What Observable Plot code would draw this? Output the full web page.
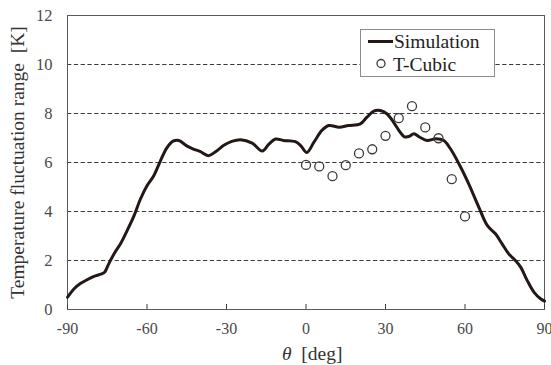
<!DOCTYPE html>
<html>
<head>
<meta charset="utf-8">
<script src="https://cdn.jsdelivr.net/npm/d3@7"></script>
<script src="https://cdn.jsdelivr.net/npm/@observablehq/plot@0.6"></script>
<style>
  body { margin: 0; background: #fff; }
  #chart { position: relative; width: 551px; height: 365px; font-family: "Liberation Serif", Tinos, "Times New Roman", "Nimbus Roman", "DejaVu Serif", serif; }
  #chart svg { display: block; }
  #chart svg text { font-family: "Liberation Serif", Tinos, "Times New Roman", "Nimbus Roman", "DejaVu Serif", serif; }
  .legend { position: absolute; left: 360px; top: 29px; width: 133px; height: 46px; border: 1px solid #8c8c8c; background: #fff; }
  .legend .row { position: absolute; left: 0; font-size: 19.5px; color: #1e1e1e; white-space: nowrap; line-height: 1; }
  .xlabel { position: absolute; left: 282px; top: 342px; font-size: 19.5px; color: #333; white-space: pre; line-height: 1.2; }
</style>
</head>
<body>
<div id="chart"></div>
<script>
// Simulated temperature fluctuation range along the angle theta
const simTheta = [-90, -87.5, -85, -82.5, -80, -77.5, -76, -75, -73.8, -72, -70, -67.5, -65, -62.5, -60, -57.5, -55, -52.5, -50, -48, -45, -42.5, -40, -36.8, -34, -31, -28, -24.7, -20.3, -16.5, -14, -11.5, -8.5, -4, -2, 0.3, 3, 6, 8.6, 12.5, 16, 20.5, 23, 25.6, 28, 30.5, 33, 35.5, 37, 38.8, 40.7, 43, 45.7, 49, 52, 54.5, 57.7, 61.4, 65.2, 68.4, 71.5, 74, 76.5, 79, 81, 83.5, 86, 88.5, 90];
const simValue = [0.50, 0.85, 1.07, 1.22, 1.35, 1.44, 1.52, 1.73, 2.0, 2.35, 2.68, 3.22, 3.8, 4.5, 5.05, 5.45, 6.05, 6.6, 6.88, 6.9, 6.68, 6.55, 6.45, 6.28, 6.45, 6.7, 6.86, 6.93, 6.79, 6.47, 6.75, 6.96, 6.9, 6.85, 6.69, 6.41, 6.83, 7.31, 7.51, 7.44, 7.51, 7.58, 7.85, 8.1, 8.12, 7.99, 7.65, 7.24, 7.06, 7.06, 7.17, 7.03, 6.9, 6.97, 6.9, 6.56, 5.95, 5.13, 4.18, 3.43, 3.09, 2.68, 2.27, 2.0, 1.73, 1.18, 0.71, 0.44, 0.34];

// T-Cubic measurements
const cubicTheta = [0, 5, 10, 15, 20, 25, 30, 35, 40, 45, 50, 55, 60];
const cubicValue = [5.9, 5.84, 5.44, 5.89, 6.37, 6.54, 7.09, 7.81, 8.3, 7.43, 6.99, 5.32, 3.8];

const xTicks = [-90, -60, -30, 0, 30, 60, 90];
const yTicks = [0, 2, 4, 6, 8, 10, 12];
const gridValues = [2, 4, 6, 8, 10];
const seriesNames = ["Simulation", "T-Cubic"];
const yLabel = "Temperature fluctuation range\u00a0 [K]";
const xSymbol = "θ";
const xUnit = "[deg]";

const simulation = simTheta.map((t, i) => ({theta: t, value: simValue[i]}));
const cubic = cubicTheta.map((t, i) => ({theta: t, value: cubicValue[i]}));

const chart = Plot.plot({
  width: 551,
  height: 365,
  marginLeft: 67,
  marginRight: 7,
  marginTop: 15,
  marginBottom: 56,
  style: {fontSize: "16px", color: "#4a4a4a", background: "#fff", overflow: "visible"},
  x: {domain: [-90, 90]},
  y: {domain: [0, 12]},
  marks: [
    Plot.ruleY(gridValues, {stroke: "#3c3c3c", strokeWidth: 1, strokeDasharray: "4.3,2.5"}),
    Plot.frame({stroke: "#5a5a5a", strokeWidth: 1}),
    Plot.axisX(xTicks, {tickSize: -5, tickPadding: 18, tickFormat: d => String(d), label: null, stroke: "#3c3c3c", fontSize: 16}),
    Plot.axisY(yTicks, {tickSize: 0, tickPadding: 15, tickFormat: d => String(d), label: yLabel, labelAnchor: "center", labelOffset: 57, labelArrow: "none", fontSize: 16.5}),
    Plot.line(simulation, {x: "theta", y: "value", curve: "catmull-rom", stroke: "#231815", strokeWidth: 3}),
    Plot.dot(cubic, {x: "theta", y: "value", r: 4.5, stroke: "#3a3a3a", strokeWidth: 1.3, fill: "none"})
  ]
});

const root = document.getElementById("chart");
root.appendChild(chart);

// Larger, darker title for the value axis
chart.querySelectorAll("g[aria-label='y-axis label'] text").forEach(t => {
  t.setAttribute("font-size", "19.5");
  t.setAttribute("fill", "#333");
});

// Axis title with italic theta
const xl = document.createElement("div");
xl.className = "xlabel";
const it = document.createElement("i");
it.textContent = xSymbol;
xl.appendChild(it);
xl.appendChild(document.createTextNode("  " + xUnit));
root.appendChild(xl);

// Legend box
const legend = document.createElement("div");
legend.className = "legend";
legend.innerHTML =
  `<svg width="133" height="46" style="position:absolute;left:0;top:0">
     <line x1="7" x2="32" y1="11.5" y2="11.5" stroke="#231815" stroke-width="3"/>
     <circle cx="20" cy="33.5" r="4" fill="none" stroke="#3a3a3a" stroke-width="1.3"/>
   </svg>
   <div class="row" style="left:33px;top:2px">${seriesNames[0]}</div>
   <div class="row" style="left:32px;top:25px">${seriesNames[1]}</div>`;
root.appendChild(legend);
</script>
</body>
</html>
